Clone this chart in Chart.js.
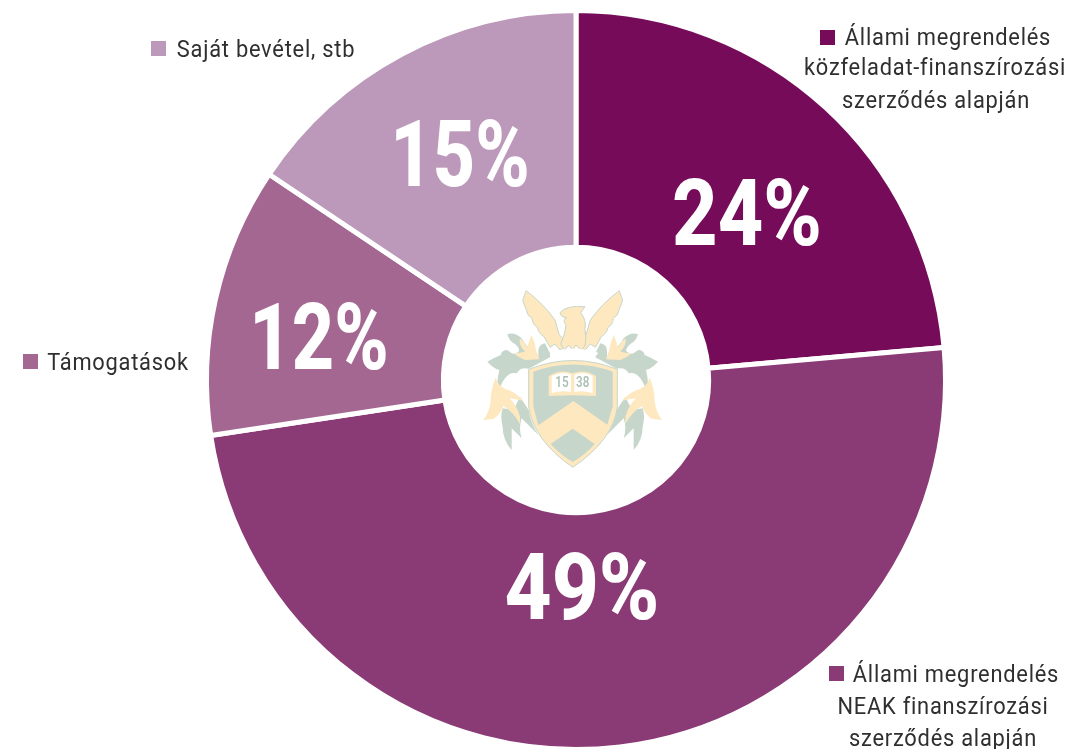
<!DOCTYPE html>
<html><head><meta charset="utf-8">
<script src="https://cdn.jsdelivr.net/npm/chart.js@4"></script>
<style>html,body{margin:0;padding:0;background:#fff;overflow:hidden}
#w{position:relative;width:1071px;height:749px;overflow:hidden}
canvas{position:absolute;left:0;top:0}
svg{position:absolute;left:470px;top:270px;width:210px;height:210px}</style></head>
<body><div id="w"><canvas id="c" width="1071" height="760"></canvas>
<svg viewBox="0 0 630 630">
<defs>
<g id="side">
<path fill="#c6d6cb" d="M52 275 Q75 262 92 255 Q95 240 112 240 L125 250 Q150 255 165 262 L205 262 L205 240 Q208 222 225 220 L240 250 L240 262 L176 296 Q150 290 140 310 Q120 305 105 325 Q90 345 85 375 Q78 340 88 300 Q70 295 52 275Z"/>
<path fill="#c6d6cb" d="M112 192 Q135 185 155 205 Q165 225 185 240 L170 265 L135 250 Q160 245 135 222 Q118 215 112 192Z"/>
<path fill="#c6d6cb" d="M150 380 L176 420 Q182 460 205 495 L155 445 Q145 475 155 505 L125 475 L125 540 Q98 510 98 470 Q90 440 98 415 L130 420 Z"/>
<path fill="#fde8c0" d="M130 250 Q150 248 165 245 Q145 225 150 205 Q162 215 172 232 Q178 212 184 195 Q196 218 198 240 L208 268 L165 270 Q145 262 130 250Z"/>
<path fill="#fde8c0" d="M78 322 Q80 345 108 358 Q135 365 160 392 Q135 388 118 385 Q140 405 150 440 L150 462 Q130 425 100 408 Q92 432 72 446 L40 450 Q58 425 62 395 Q62 355 78 322Z"/>
<path fill="#fde8c0" stroke="#c6d6cb" stroke-width="3" d="M168 62 Q220 100 255 150 Q262 175 268 195 L300 225 L270 240 L255 222 L240 232 L222 200 Q205 190 202 172 Q188 165 186 145 Q170 135 170 122 L158 92Z"/>
</g>
</defs>
<use href="#side"/>
<use href="#side" transform="translate(616 0) scale(-1 1)"/>
<path fill="#fde8c0" stroke="#c6d6cb" stroke-width="3" d="M270 128 Q290 105 345 110 L332 128 Q350 150 345 178 Q350 205 345 228 L332 240 L318 225 L308 240 L296 225 L284 240 L272 222 Q285 195 288 165 Q275 150 290 143 Q272 142 270 128Z"/>
<path fill="#fff" d="M240 248 Q310 225 385 248 L375 262 Q310 245 250 262Z"/>
<path fill="#fde8c0" stroke="#c6d6cb" stroke-width="3" d="M176 298 Q310 245 442 298 L442 410 Q430 510 308 592 Q190 510 176 410Z"/>
<path fill="#c6d6cb" d="M190 305 Q310 262 428 305 L428 410 L412 464 L310 393 L205 466 L190 410Z"/>
<path fill="#c6d6cb" d="M242 522 L308 476 L374 522 Q345 555 308 576 Q272 555 242 522Z"/>
<path fill="#fde8c0" d="M236 318 Q275 296 307 310 Q340 296 378 318 L378 378 L308 376 L236 378Z"/>
<path fill="#fff" d="M245 318 Q280 302 303 314 L303 366 Q275 360 245 370Z M313 314 Q340 302 368 318 L368 370 Q340 360 313 366Z"/>
<text x="256" y="352" font-family="Roboto" font-weight="500" font-size="44" fill="#a8bfb0" textLength="40" lengthAdjust="spacingAndGlyphs">15</text>
<text x="318" y="352" font-family="Roboto" font-weight="500" font-size="44" fill="#a8bfb0" textLength="40" lengthAdjust="spacingAndGlyphs">38</text>
</svg></div>
<script>
const categories=["Állami megrendelés közfeladat-finanszírozási szerződés alapján","Állami megrendelés NEAK finanszírozási szerződés alapján","Támogatások","Saját bevétel, stb"];
const values=[23.6,49,11.8,15.6];
const percentLabels=["24%","49%","12%","15%"];
const colors=["#750b59","#8a3a74","#a36792","#bc98ba"];
const percentPos=[[747,222],[582,596],[319,346],[460,163]];
const percentStretch=[0.86,0.89,0.8,0.8];
const legendBlocks=[
 {lines:["Állami megrendelés","közfeladat-finanszírozási","szerződés alapján"],x:[948,935,936],y:[39,69,102],sq:[820,30]},
 {lines:["Állami megrendelés","NEAK finanszírozási","szerződés alapján"],x:[956,943,943],y:[676,708,740],sq:[829,666]},
 {lines:["Támogatások"],x:[118],y:[364],sq:[23,354]},
 {lines:["Saját bevétel, stb"],x:[266],y:[51],sq:[151,41]}];
function stretched(ctx,t,x,y,sx){ctx.save();ctx.translate(x,y);ctx.scale(sx,1);ctx.fillText(t,0,0);ctx.restore();}
const labelsPlugin={id:'labels',afterDraw(ch){const ctx=ch.ctx;ctx.save();ctx.textAlign='center';ctx.textBaseline='middle';
 ctx.fillStyle='#fff';ctx.font='800 92px Roboto';
 percentLabels.forEach((t,i)=>stretched(ctx,t,percentPos[i][0],percentPos[i][1],percentStretch[i]));
 ctx.font='400 23px Roboto';
 legendBlocks.forEach((b,i)=>{ctx.fillStyle=colors[i];ctx.fillRect(b.sq[0],b.sq[1],15,15);ctx.fillStyle='#2f2f2f';
  b.lines.forEach((l,j)=>{ctx.letterSpacing='0.8px';stretched(ctx,l,b.x[j],b.y[j],0.95);});});
 ctx.restore();}};
new Chart(document.getElementById('c'),{type:'doughnut',
 data:{labels:categories,datasets:[{data:values,backgroundColor:colors,borderColor:'#fff',borderWidth:5,hoverOffset:0}]},
 options:{responsive:false,animation:false,cutout:'35.9%',
  layout:{padding:{left:204,right:123,top:8,bottom:8}},
  plugins:{legend:{display:false},tooltip:{enabled:false}}},
 plugins:[labelsPlugin]});
</script></body></html>
